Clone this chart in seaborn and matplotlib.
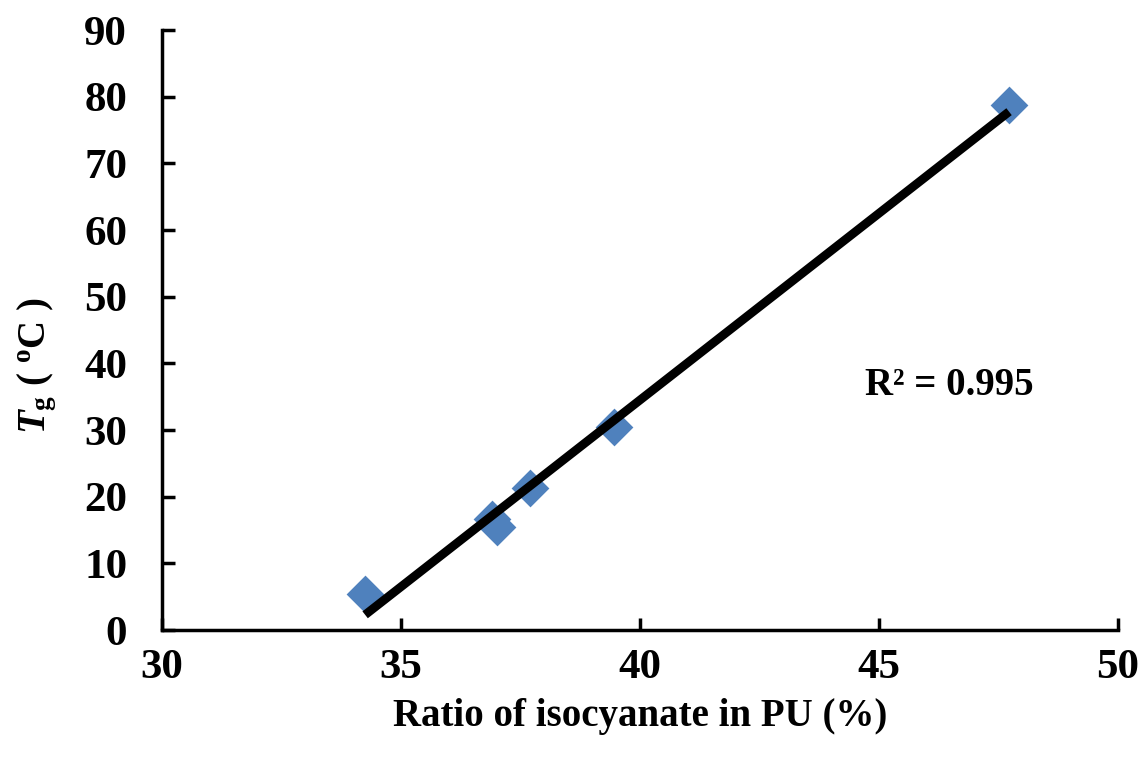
import matplotlib
matplotlib.use("Agg")
import matplotlib.pyplot as plt
import seaborn as sns
import pandas as pd

# Data
ratio = [34.25, 36.9, 37.0, 37.7, 39.45, 47.72]
tg = [5.4, 16.6, 15.4, 21.3, 30.4, 78.8]
x_ticks = [30, 35, 40, 45, 50]
y_ticks = [0, 10, 20, 30, 40, 50, 60, 70, 80, 90]
r2_label = "R² = 0.995"

df = pd.DataFrame({"ratio": ratio, "tg": tg})

sns.set_theme(style="white")
plt.rcParams["font.family"] = ["Liberation Serif", "DejaVu Serif"]
plt.rcParams["font.weight"] = "bold"
plt.rcParams["text.color"] = "black"
plt.rcParams["axes.labelcolor"] = "black"
plt.rcParams["xtick.color"] = "black"
plt.rcParams["ytick.color"] = "black"
plt.rcParams["mathtext.fontset"] = "custom"
plt.rcParams["mathtext.rm"] = "Liberation Serif:bold"
plt.rcParams["mathtext.it"] = "Liberation Serif:italic:bold"
plt.rcParams["mathtext.bf"] = "Liberation Serif:bold"

fig = plt.figure(figsize=(11.39, 7.60), dpi=100)
ax = fig.add_axes([0.1422, 0.171, 0.8394, 0.7895])

sns.regplot(data=df, x="ratio", y="tg", ax=ax, ci=None, scatter=False,
            truncate=True, line_kws=dict(color="black", lw=6.3, zorder=3,
                                         solid_capstyle="butt"))
sns.scatterplot(data=df, x="ratio", y="tg", ax=ax, marker="D", s=370,
                color="#4F81BD", edgecolor="#4F81BD", linewidth=0, zorder=2)

ax.set_xlim(30, 50)
ax.set_ylim(0, 90)
ax.set_xticks(x_ticks)
ax.set_yticks(y_ticks)
ax.tick_params(direction="in", length=9, width=2.5, labelsize=31,
               left=True, bottom=True, colors="black")
ax.tick_params(axis="y", pad=25)
ax.tick_params(axis="x", pad=14)
for lab in ax.get_xticklabels() + ax.get_yticklabels():
    lab.set_fontweight("bold")

for s in ["top", "right"]:
    ax.spines[s].set_visible(False)
for s in ["left", "bottom"]:
    ax.spines[s].set_linewidth(2.5)
    ax.spines[s].set_color("black")

ax.set_xlabel("Ratio of isocyanate in PU (%)", fontsize=28, fontweight="bold",
              color="black")
ax.xaxis.set_label_coords(0.5, -0.113)
ax.set_ylabel(r"$T_{\mathrm{g}}$ ( $^{\mathrm{o}}$C )", fontsize=28,
              fontweight="bold", color="black")
ax.yaxis.set_label_coords(-0.108, 0.44)

ax.text(44.7, 36.7, r2_label, fontsize=28, fontweight="bold", va="center",
        ha="left", color="black")

fig.savefig("out.png", dpi=100, facecolor="white")
